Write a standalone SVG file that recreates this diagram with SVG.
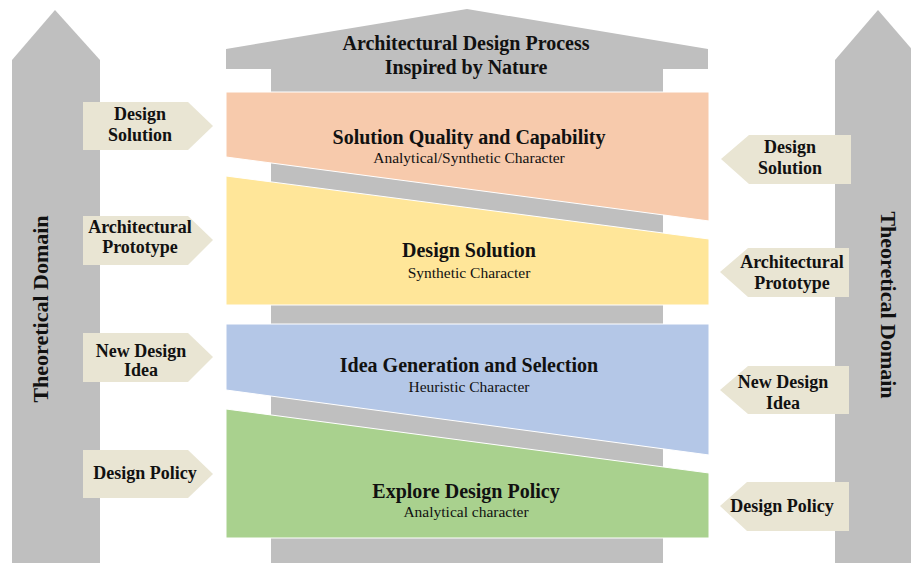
<svg xmlns="http://www.w3.org/2000/svg" width="911" height="563" viewBox="0 0 911 563">
<style>
.g{fill:#bfbfbf}
.lbl{fill:#e9e5d3}
.band{stroke:#ffffff;stroke-width:1}
text{font-family:"Liberation Serif","Times New Roman",serif;fill:#111}
.t{font-weight:bold;font-size:20px;text-anchor:middle}
.s{font-size:15.5px;text-anchor:middle}
.l{font-weight:bold;font-size:18px;text-anchor:middle}
.h{font-weight:bold;font-size:20px;text-anchor:middle}
.d{font-weight:bold;font-size:22px;text-anchor:middle}
</style>
<rect width="911" height="563" fill="#ffffff"/>
<g id="pillar-left">
<polygon class="g" points="12,60 55,10 100,60 100,563 12,563"/>
<text class="d" transform="translate(48,309) rotate(-90)">Theoretical Domain</text>
</g>
<g id="pillar-right">
<polygon class="g" points="835,60 878,10 921,60 921,563 835,563"/>
<text class="d" transform="translate(881,305) rotate(90)">Theoretical Domain</text>
</g>
<g id="house">
<polygon class="g" points="226,49 467,9 708,49 708,69 663,69 663,563 271,563 271,69 226,69"/>
<text class="h" x="466" y="50">Architectural Design Process</text>
<text class="h" x="466" y="74">Inspired by Nature</text>
</g>
<g id="band-quality">
<polygon class="band" fill="#f7caac" points="226,92 709,92 709,221 226,157"/>
<text class="t" x="469" y="144">Solution Quality and Capability</text>
<text class="s" x="469" y="163">Analytical/Synthetic Character</text>
</g>
<g id="band-solution">
<polygon class="band" fill="#ffe699" points="226,176 709,239 709,305 226,305"/>
<text class="t" x="469" y="257">Design Solution</text>
<text class="s" x="469" y="278">Synthetic Character</text>
</g>
<g id="band-idea">
<polygon class="band" fill="#b4c7e7" points="226,324 709,324 709,455 226,390"/>
<text class="t" x="469" y="372">Idea Generation and Selection</text>
<text class="s" x="469" y="392">Heuristic Character</text>
</g>
<g id="band-policy">
<polygon class="band" fill="#a9d18e" points="226,409 709,473 709,538 226,538"/>
<text class="t" x="466" y="498">Explore Design Policy</text>
<text class="s" x="466" y="517">Analytical character</text>
</g>
<g id="in-left-solution">
<polygon class="lbl" points="83,102 188,102 213,126 188,150 83,150"/>
<text class="l" x="140" y="120">Design</text>
<text class="l" x="140" y="141">Solution</text>
</g>
<g id="in-left-prototype">
<polygon class="lbl" points="83,216 188,216 213,240 188,265 83,265"/>
<text class="l" x="140" y="233">Architectural</text>
<text class="l" x="140" y="253">Prototype</text>
</g>
<g id="in-left-idea">
<polygon class="lbl" points="83,333 188,333 213,357 188,382 83,382"/>
<text class="l" x="141" y="357">New Design</text>
<text class="l" x="141" y="376">Idea</text>
</g>
<g id="in-left-policy">
<polygon class="lbl" points="83,450 188,450 213,474 188,498 83,498"/>
<text class="l" x="145" y="479">Design Policy</text>
</g>
<g id="in-right-solution">
<polygon class="lbl" points="851,135 749,135 721,159 749,184 851,184"/>
<text class="l" x="790" y="153">Design</text>
<text class="l" x="790" y="174">Solution</text>
</g>
<g id="in-right-prototype">
<polygon class="lbl" points="849,248 748,248 720,272 748,297 849,297"/>
<text class="l" x="792" y="268">Architectural</text>
<text class="l" x="792" y="289">Prototype</text>
</g>
<g id="in-right-idea">
<polygon class="lbl" points="849,366 748,366 720,390 748,414 849,414"/>
<text class="l" x="783" y="388">New Design</text>
<text class="l" x="783" y="409">Idea</text>
</g>
<g id="in-right-policy">
<polygon class="lbl" points="849,482 747,482 720,506 747,531 849,531"/>
<text class="l" x="782" y="512">Design Policy</text>
</g>
<g id="connectors"></g>
</svg>
